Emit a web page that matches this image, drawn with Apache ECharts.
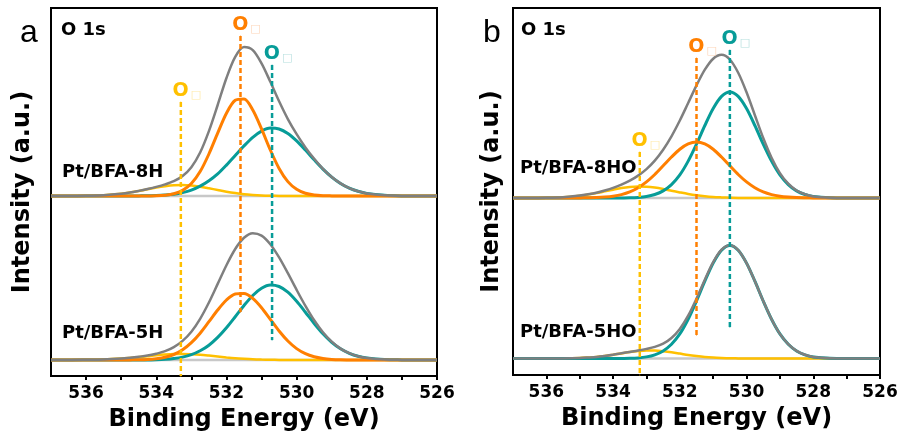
<!DOCTYPE html>
<html>
<head>
<meta charset="utf-8">
<script src="https://cdn.jsdelivr.net/npm/echarts@6/dist/echarts.min.js"></script>
<style>
  html, body { margin: 0; padding: 0; background: #fff; }
  #chart { width: 904px; height: 444px; }
</style>
</head>
<body>
<div id="chart"></div>
<script>
// binding energy grid (eV), shared by every curve
const energy = [537, 536.5, 536, 535.5,
  535, 534.75, 534.5, 534.25, 534, 533.75, 533.5, 533.25, 533, 532.75, 532.5, 532.25,
  532, 531.75, 531.5, 531.25, 531, 530.75, 530.5, 530.25, 530, 529.75, 529.5, 529.25,
  529, 528.75, 528.5, 528.25, 528,
  527.5, 527, 526.5, 526]

// intensities above each spectrum's background (a.u.)
// panel a, Pt/BFA-8H
const h8Ads = [0, 0, 0.2, 0.8, 2.2, 3.4, 5.0, 6.7, 8.4, 9.8, 10.8, 11.0, 10.5, 9.3, 7.7, 6.0,
  4.3, 2.9, 1.8, 1.1, 0.6, 0.3, 0.1, 0, 0, 0, 0, 0, 0, 0, 0, 0, 0, 0, 0, 0, 0]
const h8Vac = [0, 0, 0, 0, 0, 0, 0, 0.1, 0.2, 0.8, 2.2, 5.6, 12.4, 24.4, 42.0, 62.9,
  82.8, 95.7, 97.0, 86.1, 67.1, 46.0, 27.6, 14.4, 6.7, 2.7, 1.0, 0.3, 0.1, 0, 0, 0, 0, 0, 0, 0, 0]
const h8Latt = [0, 0, 0, 0, 0, 0, 0.1, 0.2, 0.5, 1.0, 1.8, 3.4, 5.9, 9.8, 15.2, 22.1,
  30.9, 40.5, 50.1, 58.7, 64.9, 67.9, 67.0, 62.5, 55.1, 45.9, 36.2, 26.9, 18.9, 12.6, 7.9, 4.7, 2.6, 0.7, 0.1, 0, 0]
const h8Sum = [0, 0, 0.2, 0.8, 2.2, 3.4, 5.1, 7.0, 9.1, 11.6, 14.8, 20.0, 28.8, 43.5, 64.9, 91.0,
  118.0, 139.1, 148.9, 145.9, 132.6, 114.2, 94.7, 76.9, 61.8, 48.6, 37.2, 27.2, 19.0, 12.6, 7.9, 4.7, 2.6, 0.7, 0.1, 0, 0]
// panel a, Pt/BFA-5H
const h5Ads = [0, 0, 0.2, 0.5, 1.4, 2.1, 2.9, 3.8, 4.7, 5.4, 5.9, 6.0, 5.7, 5.2, 4.4, 3.5,
  2.6, 1.8, 1.2, 0.7, 0.4, 0.2, 0.1, 0, 0, 0, 0, 0, 0, 0, 0, 0, 0, 0, 0, 0, 0]
const h5Vac = [0, 0, 0, 0, 0, 0.1, 0.2, 0.5, 1.3, 2.7, 5.5, 10.2, 17.3, 26.8, 38.3, 50.0,
  60.0, 66.0, 66.5, 61.6, 52.3, 40.7, 29.0, 19.0, 11.4, 6.3, 3.2, 1.5, 0.6, 0.2, 0.1, 0, 0, 0, 0, 0, 0]
const h5Latt = [0, 0, 0, 0, 0, 0, 0.1, 0.1, 0.3, 0.7, 1.5, 2.9, 5.3, 9.2, 14.8, 22.6,
  32.2, 43.2, 54.5, 64.5, 71.7, 74.9, 73.5, 67.8, 58.7, 47.8, 36.5, 26.2, 17.7, 11.2, 6.7, 3.7, 2.0, 0.4, 0.1, 0, 0]
const h5Sum = [0, 0, 0.2, 0.5, 1.4, 2.2, 3.2, 4.4, 6.3, 8.8, 12.9, 19.1, 28.3, 41.2, 57.5, 76.1,
  94.8, 111.0, 122.2, 126.8, 124.4, 115.8, 102.6, 86.8, 70.1, 54.1, 39.7, 27.7, 18.3, 11.4, 6.8, 3.7, 2.0, 0.4, 0.1, 0, 0]
// panel b, Pt/BFA-8HO
const ho8Ads = [0, 0, 0.2, 0.8, 2.3, 3.5, 4.9, 6.6, 8.3, 9.9, 11.0, 11.5, 11.3, 10.4, 9.0, 7.3,
  5.6, 4.0, 2.7, 1.7, 1.0, 0.6, 0.3, 0.1, 0.1, 0, 0, 0, 0, 0, 0, 0, 0, 0, 0, 0, 0]
const ho8Vac = [0, 0, 0, 0, 0.1, 0.2, 0.4, 0.9, 1.8, 3.4, 6.1, 10.3, 16.1, 23.5, 32.2, 41.0,
  48.8, 54.1, 56, 54.1, 48.8, 41.0, 32.2, 23.5, 16.1, 10.3, 6.1, 3.4, 1.8, 0.9, 0.4, 0.2, 0.1, 0, 0, 0, 0]
const ho8Latt = [0, 0, 0, 0, 0, 0, 0, 0, 0, 0.1, 0.2, 0.6, 1.5, 3.5, 7.1, 13.4,
  23.1, 36.9, 53.9, 72.5, 89.5, 101.6, 106, 101.6, 89.5, 72.5, 53.9, 36.9, 23.1, 13.4, 7.1, 3.5, 1.5, 0.2, 0, 0, 0]
const ho8Sum = [0, 0, 0.2, 0.8, 2.4, 3.7, 5.3, 7.5, 10.1, 13.4, 17.3, 22.4, 28.9, 37.4, 48.3, 61.7,
  77.5, 95.0, 112.6, 128.3, 139.3, 143.2, 138.5, 125.2, 105.7, 82.8, 60.0, 40.3, 24.9, 14.3, 7.5, 3.7, 1.6, 0.2, 0, 0, 0]
// panel b, Pt/BFA-5HO
const ho5Ads = [0, 0, 0, 0.1, 0.5, 1.0, 1.6, 2.6, 3.8, 5.1, 6.4, 7.4, 8.0, 7.9, 7.2, 6.2,
  4.9, 3.5, 2.4, 1.5, 0.9, 0.5, 0.2, 0.1, 0, 0, 0, 0, 0, 0, 0, 0, 0, 0, 0, 0, 0]
const ho5Latt = [0, 0, 0, 0, 0, 0, 0, 0, 0, 0.1, 0.2, 0.6, 1.6, 3.7, 7.6, 14.3,
  24.6, 39.3, 57.5, 77.3, 95.4, 108.3, 113, 108.3, 95.4, 77.3, 57.5, 39.3, 24.6, 14.3, 7.6, 3.7, 1.6, 0.2, 0, 0, 0]
const ho5Sum = [0, 0, 0, 0.1, 0.5, 1.0, 1.6, 2.6, 3.8, 5.2, 6.6, 8.0, 9.6, 11.6, 14.8, 20.5,
  29.5, 42.8, 59.9, 78.8, 96.3, 108.8, 113.2, 108.4, 95.4, 77.3, 57.5, 39.3, 24.6, 14.3, 7.6, 3.7, 1.6, 0.2, 0, 0, 0]

// vertical offsets of the stacked spectra
const offsets = { h8: 180, h5: 16, ho8: 177, ho5: 16.5 }

// peak positions (eV) and dashed guide extents [top, bottom]
const peakA = { ads: 533.3, vac: 531.6, latt: 530.7 }
const guideA = { ads: [274, 0], vac: [340, 64], latt: [311, 36] }
const peakB = { ads: 533.2, vac: 531.5, latt: 530.5 }
const guideB = { ads: [223, 0], vac: [317, 40], latt: [325, 48] }

const tickLabels = ['536', '534', '532', '530', '528', '526']

const C = {
  sum: '#7f7f7f', bg: '#c8c8c8',
  vac: '#ff7f00', latt: '#079c98', ads: '#ffc000',
  vacL: '#fdd5b8', lattL: '#b8e0df', adsL: '#ffe9a8'
}
const FONT = 'DejaVu Sans'

function curve(gi, values, offset, color, width, z) {
  return {
    type: 'line', xAxisIndex: gi, yAxisIndex: gi,
    data: energy.map((e, i) => [e, values[i] + offset]),
    smooth: 0.3, symbol: 'none', silent: true, z: z,
    lineStyle: { color: color, width: width }
  }
}

function baseline(gi, offset) {
  return {
    type: 'line', xAxisIndex: gi, yAxisIndex: gi,
    data: [[energy[0], offset], [energy[energy.length - 1], offset]],
    symbol: 'none', silent: true, z: 1,
    lineStyle: { color: C.bg, width: 2.5 }
  }
}

function guide(gi, x, ext, color, light) {
  return {
    type: 'line', xAxisIndex: gi, yAxisIndex: gi, silent: true, z: 10,
    symbol: 'circle', symbolSize: 1, showSymbol: true,
    itemStyle: { color: color },
    lineStyle: { color: color, width: 2.5, type: [5, 3] },
    data: [
      {
        value: [x, ext[0]],
        label: {
          show: true, position: 'top', distance: 1, offset: [6, 0],
          formatter: '{o|O}{s|\u25A1}',
          rich: {
            o: { color: color, fontSize: 19, fontWeight: 'bold', fontFamily: FONT },
            s: { color: light, fontSize: 11, fontFamily: FONT, verticalAlign: 'bottom', padding: [0, 0, 0, 2] }
          }
        }
      },
      [x, ext[1]]
    ]
  }
}

function xAxisOf(gi) {
  return {
    type: 'value', gridIndex: gi, min: 526, max: 537, interval: 1, inverse: true,
    axisLine: { lineStyle: { color: '#000', width: 2 } },
    axisTick: { length: 4, lineStyle: { color: '#000', width: 2 } },
    axisLabel: {
      showMaxLabel: false, margin: 9, color: '#000',
      fontFamily: FONT, fontWeight: 'bold', fontSize: 17,
      formatter: v => (tickLabels.indexOf(String(v)) >= 0 ? String(v) : '')
    },
    splitLine: { show: false },
    name: 'Binding Energy (eV)', nameLocation: 'middle', nameGap: 32,
    nameTextStyle: { color: '#000', fontFamily: FONT, fontWeight: 'bold', fontSize: 24 }
  }
}

function yAxisOf(gi, max, gap) {
  return {
    type: 'value', gridIndex: gi, min: 0, max: max,
    axisLine: { show: true, lineStyle: { color: '#000', width: 2 } },
    axisTick: { show: false }, axisLabel: { show: false }, splitLine: { show: false },
    name: 'Intensity (a.u.)', nameLocation: 'middle', nameGap: gap,
    nameTextStyle: { color: '#000', fontFamily: FONT, fontWeight: 'bold', fontSize: 24 }
  }
}

function txt(x, y, text, size, bold, family) {
  return {
    type: 'text', x: x, y: y, silent: true,
    style: {
      text: text, fill: '#000', fontSize: size, fontWeight: bold ? 'bold' : 'normal',
      fontFamily: family || FONT, verticalAlign: 'middle'
    }
  }
}

const myChart = echarts.init(document.getElementById('chart'), null, { renderer: 'canvas' })

const option = {
  animation: false,
  backgroundColor: '#fff',
  grid: [
    { left: 51, right: 467, top: 8, bottom: 68, show: true, borderColor: '#000', borderWidth: 2 },
    { left: 513, right: 24, top: 8, bottom: 69, show: true, borderColor: '#000', borderWidth: 2 }
  ],
  xAxis: [xAxisOf(0), xAxisOf(1)],
  yAxis: [yAxisOf(0, 368, 16), yAxisOf(1, 367, 9)],
  graphic: [
    txt(20, 33, 'a', 32, false, 'Liberation Sans'),
    txt(483, 33, 'b', 32, false, 'Liberation Sans'),
    txt(61, 30, 'O 1s', 18, true),
    txt(521, 30, 'O 1s', 18, true),
    txt(62, 172, 'Pt/BFA-8H', 18, true),
    txt(62, 333, 'Pt/BFA-5H', 18, true),
    txt(520, 168, 'Pt/BFA-8HO', 18, true),
    txt(520, 332, 'Pt/BFA-5HO', 18, true)
  ],
  series: [
    // panel a
    baseline(0, offsets.h8),
    curve(0, h8Ads, offsets.h8, C.ads, 2.5, 2),
    curve(0, h8Latt, offsets.h8, C.latt, 3, 3),
    curve(0, h8Vac, offsets.h8, C.vac, 3, 4),
    curve(0, h8Sum, offsets.h8, C.sum, 2.5, 5),
    baseline(0, offsets.h5),
    curve(0, h5Ads, offsets.h5, C.ads, 2.5, 2),
    curve(0, h5Latt, offsets.h5, C.latt, 3, 3),
    curve(0, h5Vac, offsets.h5, C.vac, 3, 4),
    curve(0, h5Sum, offsets.h5, C.sum, 2.5, 5),
    guide(0, peakA.ads, guideA.ads, C.ads, C.adsL),
    guide(0, peakA.vac, guideA.vac, C.vac, C.vacL),
    guide(0, peakA.latt, guideA.latt, C.latt, C.lattL),
    // panel b
    baseline(1, offsets.ho8),
    curve(1, ho8Ads, offsets.ho8, C.ads, 2.5, 2),
    curve(1, ho8Latt, offsets.ho8, C.latt, 3, 3),
    curve(1, ho8Vac, offsets.ho8, C.vac, 3, 4),
    curve(1, ho8Sum, offsets.ho8, C.sum, 2.5, 5),
    baseline(1, offsets.ho5),
    curve(1, ho5Ads, offsets.ho5, C.ads, 2.5, 2),
    curve(1, ho5Latt, offsets.ho5, C.latt, 3, 3),
    curve(1, ho5Sum, offsets.ho5, C.sum, 2.5, 5),
    guide(1, peakB.ads, guideB.ads, C.ads, C.adsL),
    guide(1, peakB.vac, guideB.vac, C.vac, C.vacL),
    guide(1, peakB.latt, guideB.latt, C.latt, C.lattL)
  ]
}

myChart.setOption(option)
window.addEventListener('resize', () => {
  myChart.resize()
})
</script>
</body>
</html>
